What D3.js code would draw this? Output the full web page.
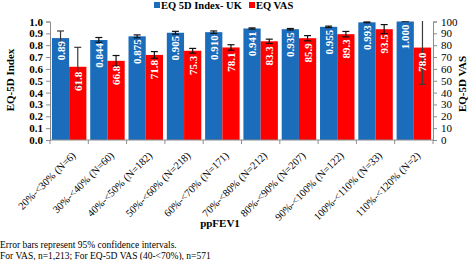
<!DOCTYPE html>
<html>
<head>
<meta charset="utf-8">
<script src="https://cdn.jsdelivr.net/npm/d3@7"></script>
<style>
  body { margin: 0; background: #fff; }
  text { font-family: "Liberation Serif", "Times New Roman", serif; }
</style>
</head>
<body>
<div id="chart"></div>
<script>
// data
var groups = ["20%-<30% (N=6)", "30%-<40% (N=60)", "40%-<50% (N=182)", "50%-<60% (N=218)",
  "60%-<70% (N=171)", "70%-<80% (N=212)", "80%-<90% (N=207)", "90%-<100% (N=122)",
  "100%-<110% (N=33)", "110%-<120% (N=2)"]
var indexVals = [0.86, 0.844, 0.875, 0.905, 0.910, 0.941, 0.935, 0.955, 0.993, 1.000]
var indexLabels = ["0.89", "0.844", "0.875", "0.905", "0.910", "0.941", "0.935", "0.955", "0.993", "1.000"]
var indexLo = [0.80, 0.825, 0.863, 0.893, 0.900, 0.936, 0.929, 0.949, 0.990, 1.000]
var indexHi = [0.92, 0.865, 0.887, 0.917, 0.920, 0.946, 0.941, 0.961, 0.996, 1.000]
var vasVals = [61.8, 66.8, 71.8, 75.3, 78.1, 83.3, 85.9, 89.3, 93.5, 78.0]
var vasLo = [45.5, 62.3, 69.0, 73.3, 75.8, 81.5, 83.7, 87.0, 89.8, 47.0]
var vasHi = [78.2, 71.3, 74.6, 77.3, 80.4, 85.1, 88.1, 91.6, 97.4, 109.0]
var leftTicks = [0, 0.1, 0.2, 0.3, 0.4, 0.5, 0.6, 0.7, 0.8, 0.9, 1.0]
var rightTicks = [0, 10, 20, 30, 40, 50, 60, 70, 80, 90, 100]

var W = 473, H = 260
var x0Left = 50, x0Right = 433, yTop = 21.5, yBottom = 140

var blue = "#1b6dbb", red = "#ff0000", axisCol = "#8c8c8c"

var svg = d3.select("#chart").append("svg")
  .attr("width", W)
  .attr("height", H)

var x = d3.scaleBand()
  .domain(groups)
  .range([x0Left, x0Right])
  .paddingInner(0.1)
  .paddingOuter(0.05)

var xs = d3.scaleBand()
  .domain(["idx", "vas"])
  .range([0, x.bandwidth()])

var yL = d3.scaleLinear().domain([0, 1]).range([yBottom, yTop])
var yR = d3.scaleLinear().domain([0, 100]).range([yBottom, yTop])

svg.append("clipPath").attr("id", "plot")
  .append("rect")
  .attr("x", x0Left).attr("y", yTop - 0.5)
  .attr("width", x0Right - x0Left).attr("height", yBottom - yTop + 0.5)

// bars
var gi = svg.append("g").selectAll(".grp").data(groups).enter().append("g")
  .attr("transform", d => "translate(" + x(d) + ",0)")

gi.append("rect")
  .attr("x", xs("idx"))
  .attr("y", (d, i) => yL(indexVals[i]))
  .attr("width", xs.bandwidth())
  .attr("height", (d, i) => yBottom - yL(indexVals[i]))
  .attr("fill", blue)

gi.append("rect")
  .attr("x", xs("vas"))
  .attr("y", (d, i) => yR(vasVals[i]))
  .attr("width", xs.bandwidth())
  .attr("height", (d, i) => yBottom - yR(vasVals[i]))
  .attr("fill", red)

// error bars (top level so the clip rect is in page coords)
var eg = svg.append("g").attr("clip-path", "url(#plot)")
var capW = 3.5
function errBar(cx, lo, hi, col) {
  var e = eg.append("g").attr("stroke", col).attr("stroke-width", 1.2)
  e.append("line").attr("x1", cx).attr("x2", cx).attr("y1", lo).attr("y2", hi)
  e.append("line").attr("x1", cx - capW).attr("x2", cx + capW).attr("y1", lo).attr("y2", lo)
  e.append("line").attr("x1", cx - capW).attr("x2", cx + capW).attr("y1", hi).attr("y2", hi)
}
groups.forEach((d, i) => {
  var col = (i === 0 || i === 9) ? "#3a3a3a" : "#111"
  errBar(x(d) + xs("idx") + xs.bandwidth() / 2, yL(indexLo[i]), yL(indexHi[i]), col)
  errBar(x(d) + xs("vas") + xs.bandwidth() / 2, yR(vasLo[i]), yR(vasHi[i]), col)
})

// value labels inside bars, drawn over the error bars
var lg = svg.append("g").selectAll(".lab").data(groups).enter().append("g")
  .attr("transform", d => "translate(" + x(d) + ",0)")

lg.append("text")
  .attr("transform", (d, i) => "translate(" + (xs("idx") + xs.bandwidth() / 2 + 4) + "," + (yL(indexVals[i]) + 3) + ") rotate(-90)")
  .attr("text-anchor", "end")
  .attr("fill", "#fff")
  .style("font-size", "11px")
  .style("font-weight", "bold")
  .text((d, i) => indexLabels[i])

lg.append("text")
  .attr("transform", (d, i) => "translate(" + (xs("vas") + xs.bandwidth() / 2 + 4) + "," + (yR(vasVals[i]) + 5) + ") rotate(-90)")
  .attr("text-anchor", "end")
  .attr("fill", "#fff")
  .style("font-size", "11px")
  .style("font-weight", "bold")
  .text((d, i) => vasVals[i].toFixed(1))

// left and right axes
var axL = svg.append("g").attr("transform", "translate(" + x0Left + ",0)")
  .call(d3.axisLeft(yL).tickValues(leftTicks).tickFormat(d3.format(".1f")).tickSize(4).tickPadding(3))
var axR = svg.append("g").attr("transform", "translate(" + x0Right + ",0)")
  .call(d3.axisRight(yR).tickValues(rightTicks).tickSize(4).tickPadding(4))
;[axL, axR].forEach(a => {
  a.select(".domain").attr("stroke", axisCol)
  a.selectAll(".tick line").attr("stroke", axisCol)
  a.selectAll(".tick text").attr("fill", "#000")
    .style("font-family", "Liberation Serif, serif").style("font-size", "11px")
})
axL.selectAll(".tick text").style("font-weight", "bold")

// x axis with ticks between groups
var axX = svg.append("g").attr("transform", "translate(0," + yBottom + ")")
axX.append("line").attr("x1", x0Left).attr("x2", x0Right).attr("stroke", axisCol)
var bounds = groups.map(d => x(d) - x.step() * x.paddingInner() / 2).concat([x0Right])
bounds[0] = x0Left
axX.selectAll(".bt").data(bounds).enter().append("line")
  .attr("x1", d => d).attr("x2", d => d).attr("y1", 0).attr("y2", 4)
  .attr("stroke", axisCol)
axX.selectAll(".xl").data(groups).enter().append("text")
  .attr("transform", d => "translate(" + (x(d) + x.bandwidth() / 2 + 2) + ",11) rotate(-45)")
  .attr("text-anchor", "end")
  .attr("dy", "0.7em")
  .style("font-size", "10.5px")
  .text(d => d)

// axis titles
svg.append("text")
  .attr("transform", "translate(14,80) rotate(-90)")
  .attr("text-anchor", "middle")
  .style("font-size", "11px").style("font-weight", "bold")
  .text("EQ-5D Index")
svg.append("text")
  .attr("transform", "translate(466,84) rotate(-90)")
  .attr("text-anchor", "middle")
  .style("font-size", "11px").style("font-weight", "bold")
  .text("EQ-5D VAS")
svg.append("text")
  .attr("x", 220).attr("y", 227)
  .attr("text-anchor", "middle")
  .style("font-size", "11px").style("font-weight", "bold")
  .text("ppFEV1")

// legend
var legend = [["EQ 5D Index- UK", blue, 154], ["EQ VAS", red, 249]]
legend.forEach(l => {
  svg.append("rect").attr("x", l[2]).attr("y", 2).attr("width", 6).attr("height", 6).attr("fill", l[1])
  svg.append("text").attr("x", l[2] + 7).attr("y", 9)
    .style("font-size", "10.5px").style("font-weight", "bold")
    .text(l[0])
})

// footnotes
svg.append("text").attr("x", 0).attr("y", 248).style("font-size", "9.5px")
  .text("Error bars represent 95% confidence intervals.")
svg.append("text").attr("x", 0).attr("y", 259).style("font-size", "9.5px")
  .text("For VAS, n=1,213; For EQ-5D VAS (40-<70%), n=571")
</script>
</body>
</html>
